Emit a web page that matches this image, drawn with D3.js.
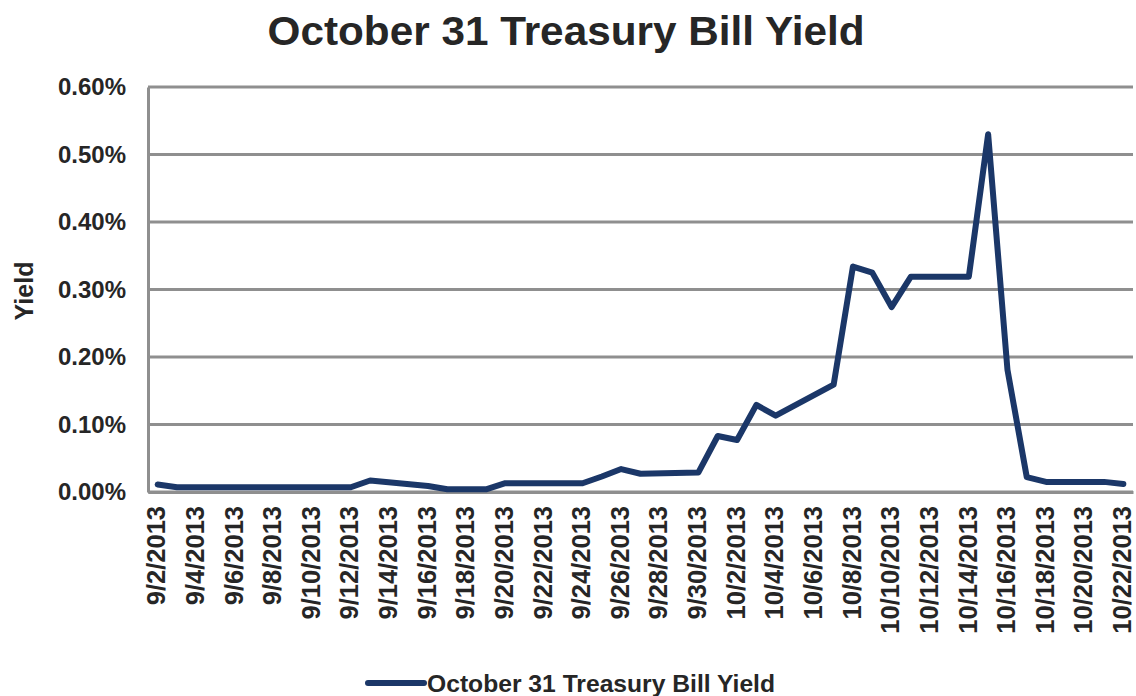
<!DOCTYPE html>
<html>
<head>
<meta charset="utf-8">
<script src="https://cdn.jsdelivr.net/npm/d3@7"></script>
<style>
  html, body { margin: 0; padding: 0; background: #ffffff; }
  svg { display: block; }
  text { font-family: "Liberation Sans", Arial, sans-serif; font-weight: bold; fill: #262626; }
</style>
</head>
<body>
<svg id="chart" width="1136" height="696"></svg>
<script>
// Trading dates (2013) and yields in percent
const dates = [
  "2013-09-02","2013-09-03","2013-09-04","2013-09-05","2013-09-06",
  "2013-09-09","2013-09-10","2013-09-11","2013-09-12","2013-09-13",
  "2013-09-16","2013-09-17","2013-09-18","2013-09-19","2013-09-20",
  "2013-09-23","2013-09-24","2013-09-25","2013-09-26","2013-09-27",
  "2013-09-30","2013-10-01","2013-10-02","2013-10-03","2013-10-04",
  "2013-10-07","2013-10-08","2013-10-09","2013-10-10","2013-10-11",
  "2013-10-14","2013-10-15","2013-10-16","2013-10-17","2013-10-18",
  "2013-10-21","2013-10-22"
];
const yields = [
  0.011, 0.007, 0.007, 0.007, 0.007,
  0.007, 0.007, 0.007, 0.007, 0.017,
  0.009, 0.004, 0.004, 0.004, 0.013,
  0.013, 0.013, 0.023, 0.034, 0.027,
  0.029, 0.083, 0.077, 0.129, 0.113,
  0.159, 0.334, 0.325, 0.274, 0.319,
  0.319, 0.530, 0.181, 0.022, 0.015,
  0.015, 0.012
];
const yTicks = [0, 0.1, 0.2, 0.3, 0.4, 0.5, 0.6];
const seriesName = "October 31 Treasury Bill Yield";
const chartTitle = "October 31 Treasury Bill Yield";
const yAxisTitle = "Yield";

const parse = d3.timeParse("%Y-%m-%d");
const data = dates.map((d, i) => ({ date: parse(d), value: yields[i] }));

// Every calendar day between the first and last date gets a slot on the axis
const allDays = d3.timeDay.range(data[0].date, d3.timeDay.offset(data[data.length - 1].date, 1));
const dayKey = d3.timeFormat("%Y-%m-%d");
const labelFmt = d => (d.getMonth() + 1) + "/" + d.getDate() + "/" + d.getFullYear();

const plot = { left: 148, right: 1133, top: 87, bottom: 492 };

const x = d3.scalePoint()
  .domain(allDays.map(dayKey))
  .range([plot.left, plot.right])
  .padding(0.5);

const y = d3.scaleLinear()
  .domain([0, 0.6])
  .range([plot.bottom, plot.top]);

const svg = d3.select("#chart");

// Title
svg.append("text")
  .attr("x", 566)
  .attr("y", 45)
  .attr("text-anchor", "middle")
  .attr("textLength", 597)
  .attr("lengthAdjust", "spacingAndGlyphs")
  .style("font-size", "41px")
  .text(chartTitle);

// Horizontal gridlines
svg.append("g")
  .selectAll("line")
  .data(yTicks)
  .join("line")
  .attr("x1", plot.left)
  .attr("x2", plot.right)
  .attr("y1", d => y(d))
  .attr("y2", d => y(d))
  .attr("stroke", "#8f8f8f")
  .attr("stroke-width", 3);

// Y axis
const yAxis = svg.append("g")
  .attr("transform", `translate(${plot.left},0)`)
  .call(d3.axisLeft(y).tickValues(yTicks).tickSize(0).tickPadding(22)
    .tickFormat(d => d.toFixed(2) + "%"));
yAxis.select(".domain").attr("stroke", "#8f8f8f").attr("stroke-width", 3);
yAxis.selectAll("text")
  .style("font-size", "24px")
  .style("font-family", "'Liberation Sans', Arial, sans-serif")
  .attr("fill", "#262626");

// X axis, labels every second day, rotated
const xTickDays = allDays.filter((d, i) => i % 2 === 0).map(dayKey);
const xAxis = svg.append("g")
  .attr("transform", `translate(0,${plot.bottom})`)
  .call(d3.axisBottom(x).tickValues(xTickDays).tickSize(0).tickSizeOuter(0)
    .tickFormat(k => labelFmt(parse(k))));
xAxis.select(".domain").attr("stroke", "#8f8f8f").attr("stroke-width", 3);
xAxis.selectAll(".tick text")
  .attr("y", 0)
  .attr("dy", "0.34em")
  .attr("transform", "translate(-1.5,14) rotate(-90)")
  .attr("text-anchor", "end")
  .style("font-size", "25.5px")
  .style("font-family", "'Liberation Sans', Arial, sans-serif")
  .attr("fill", "#262626");

// Y axis title
svg.append("text")
  .attr("transform", "translate(33,291) rotate(-90)")
  .attr("text-anchor", "middle")
  .style("font-size", "25px")
  .text(yAxisTitle);

// Yield line
const line = d3.line()
  .x(d => x(dayKey(d.date)))
  .y(d => y(d.value));

svg.append("path")
  .datum(data)
  .attr("d", line)
  .attr("fill", "none")
  .attr("stroke", "#1b3768")
  .attr("stroke-width", 6)
  .attr("stroke-linejoin", "round")
  .attr("stroke-linecap", "round");

// Legend
const legend = svg.append("g");
legend.append("line")
  .attr("x1", 368).attr("x2", 424)
  .attr("y1", 683).attr("y2", 683)
  .attr("stroke", "#1b3768")
  .attr("stroke-width", 6)
  .attr("stroke-linecap", "round");
legend.append("text")
  .attr("x", 427)
  .attr("y", 692)
  .attr("textLength", 348)
  .attr("lengthAdjust", "spacingAndGlyphs")
  .style("font-size", "24.5px")
  .text(seriesName);
</script>
</body>
</html>
